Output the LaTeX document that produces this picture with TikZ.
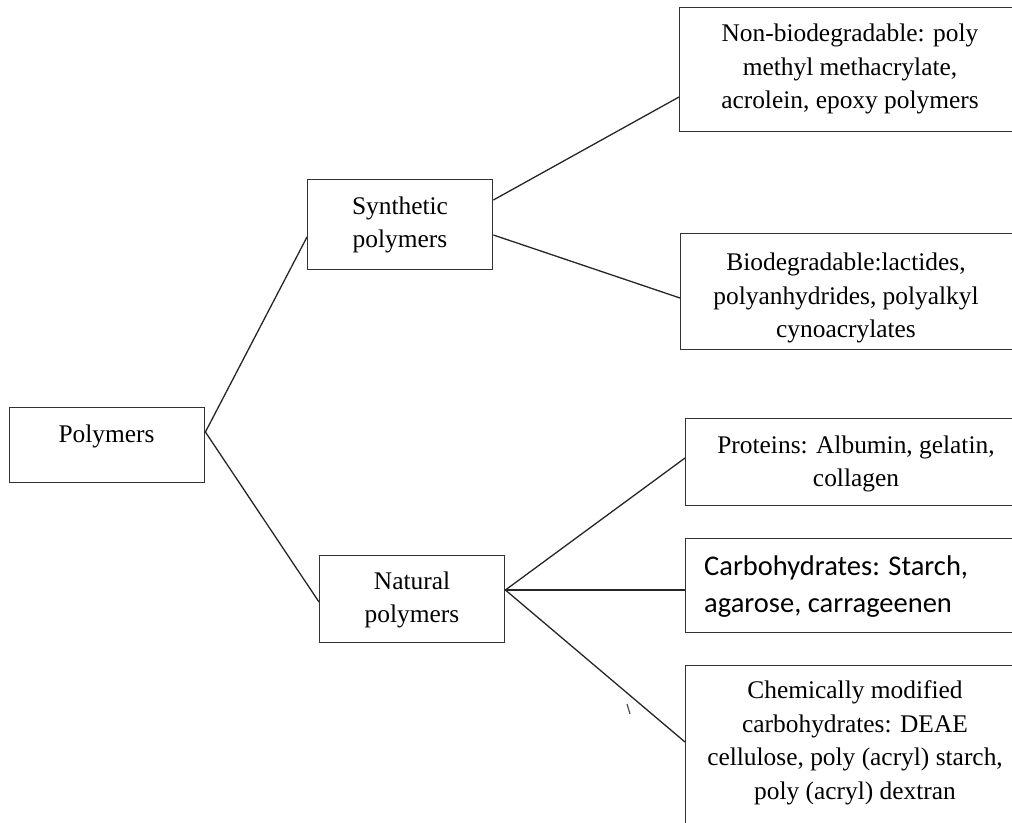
\documentclass[tikz,border=0pt]{standalone}
\usepackage{fontspec}
\usetikzlibrary{calc}
\setmainfont{Liberation Serif}
\newfontfamily\calib{Carlito}
\begin{document}
\begin{tikzpicture}[x=1pt,y=-1pt,
  box/.style={draw=black!80, line width=1.4pt, inner sep=0pt, anchor=north west},
  txt/.style={align=center, inner sep=0pt, font=\fontsize{25.4}{33.5}\selectfont},
  link/.style={draw=black!85, line width=1.3pt}]
\useasboundingbox (0,0) rectangle (1012,822);
\clip (0,0) rectangle (1012,822);
% boxes
\node[box, minimum width=195pt, minimum height=75pt] (poly) at (9,407) {};
\node[box, minimum width=185pt, minimum height=90pt] (syn) at (307,179) {};
\node[box, minimum width=185pt, minimum height=87pt] (nat) at (319,555) {};
\node[box, minimum width=360pt, minimum height=124pt] (nonbio) at (679,7) {};
\node[box, minimum width=360pt, minimum height=116pt] (bio) at (680,233) {};
\node[box, minimum width=360pt, minimum height=87pt] (prot) at (685,418) {};
\node[box, minimum width=360pt, minimum height=94pt] (carb) at (685,538) {};
\node[box, minimum width=360pt, minimum height=180pt] (chem) at (685,665) {};
% texts
\node[txt] (polyT) at (106.5,436) {Polymers};
\node[txt] (synT) at (400,225) {Synthetic\\polymers};
\node[txt] (natT) at (412,600) {Natural\\polymers};
\node[txt] (nonbioT) at (850,69) {Non-biodegradable: poly\\methyl methacrylate,\\acrolein, epoxy polymers};
\node[txt] (bioT) at (846,298) {Biodegradable:lactides,\\polyanhydrides, polyalkyl\\cynoacrylates};
\node[txt] (protT) at (856,464) {Proteins: Albumin, gelatin,\\collagen};
\node[align=left, inner sep=0pt, anchor=west, font=\calib\fontsize{28.5}{37}\selectfont] (carbT) at (704,587) {Carbohydrates: Starch,\\agarose, carrageenen};
\node[txt] (chemT) at (855,743) {Chemically modified\\carbohydrates: DEAE\\cellulose, poly (acryl) starch,\\poly (acryl) dextran};
% connection points
\coordinate (pE) at ($(poly.north east)+(0,25)$);
\coordinate (sW) at ($(syn.north west)+(0,58)$);
\coordinate (sE1) at ($(syn.north east)+(0,21)$);
\coordinate (sE2) at ($(syn.north east)+(0,56)$);
\coordinate (nW) at ($(nat.north west)+(0,47)$);
\coordinate (nE) at ($(nat.north east)+(0,35)$);
\coordinate (nbW) at ($(nonbio.north west)+(0,90)$);
\coordinate (bW) at ($(bio.north west)+(0,65)$);
\coordinate (prW) at ($(prot.north west)+(0,40)$);
\coordinate (cbW) at ($(carb.north west)+(0,52)$);
\coordinate (chW) at ($(chem.north west)+(0,77)$);
\draw[link] (pE) -- (sW);
\draw[link] (pE) -- (nW);
\draw[link] (sE1) -- (nbW);
\draw[link] (sE2) -- (bW);
\draw[link] (nE) -- (prW);
\draw[link] (nE) -- (cbW);
\draw[link] (nE) -- (chW);
% stray tick
\coordinate (tickA) at (627,704);
\coordinate (tickB) at (630,714);
\draw[black!70, line width=1.2pt] (tickA) -- (tickB);
\end{tikzpicture}
\end{document}
